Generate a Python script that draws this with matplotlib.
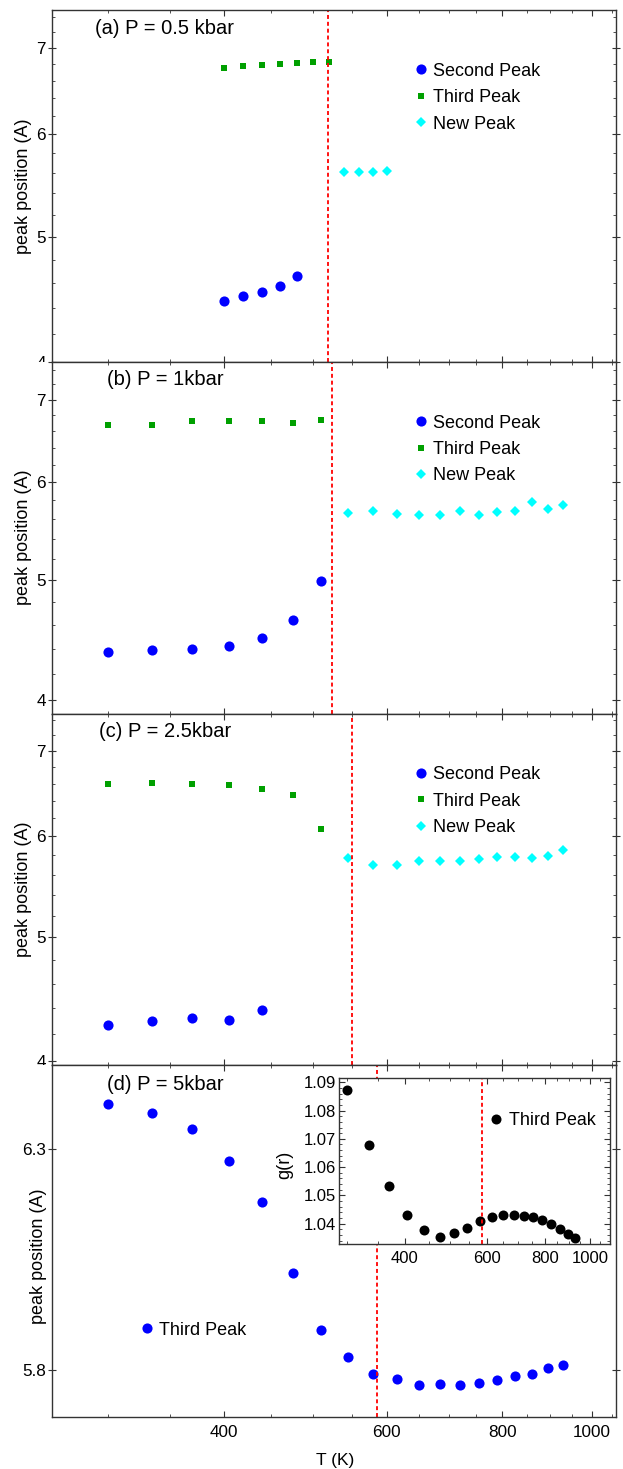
import numpy as np
import matplotlib.pyplot as plt
from matplotlib.ticker import NullFormatter
from matplotlib.transforms import Bbox, TransformedBbox

plt.rcParams['font.family'] = ['Liberation Sans', 'DejaVu Sans']

# temperatures (K)
T_a_second = [400, 420, 440, 460, 480]
T_a_third = [400, 420, 440, 460, 480, 500, 520]
T_a_new = [540, 560, 580, 600]
T_low = [300, 335, 370, 405, 440, 475, 510]
T_c_second = [300, 335, 370, 405, 440]
T_high = [545, 580, 615, 650, 685, 720, 755, 790, 825, 860, 895, 930]
T_all = [300, 335, 370, 405, 440, 475, 510, 545, 580, 615, 650, 685, 720,
         755, 790, 825, 860, 895, 930]

# (a) P = 0.5 kbar
a_second = [4.46, 4.50, 4.53, 4.58, 4.66]
a_third = [6.75, 6.78, 6.79, 6.80, 6.82, 6.83, 6.83]
a_new = [5.61, 5.61, 5.61, 5.62]

# (b) P = 1 kbar
b_second = [4.37, 4.39, 4.40, 4.42, 4.49, 4.64, 4.99]
b_third = [6.68, 6.68, 6.73, 6.73, 6.72, 6.70, 6.74]
b_new = [5.67, 5.69, 5.66, 5.64, 5.64, 5.69, 5.65, 5.68, 5.69, 5.78, 5.71, 5.75]

# (c) P = 2.5 kbar
c_second = [4.27, 4.30, 4.32, 4.31, 4.39]
c_third = [6.59, 6.61, 6.59, 6.58, 6.54, 6.46, 6.08]
c_new = [5.77, 5.70, 5.70, 5.735, 5.74, 5.74, 5.756, 5.776, 5.776, 5.766, 5.787, 5.85]

# (d) P = 5 kbar
d_third = [6.407, 6.384, 6.348, 6.272, 6.177, 6.015, 5.889, 5.829, 5.792, 5.781,
           5.769, 5.771, 5.769, 5.773, 5.780, 5.787, 5.793, 5.805, 5.812]
d_gr = [1.0871, 1.0678, 1.0533, 1.0430, 1.0378, 1.0352, 1.0366, 1.0384, 1.0410,
        1.0423, 1.0430, 1.0430, 1.0427, 1.0423, 1.0413, 1.0399, 1.0381, 1.0363, 1.0348]

# transition temperatures (dashed lines)
T_trans = [518, 524, 550, 586]

panel_titles = ['(a) P = 0.5 kbar', '(b) P = 1kbar', '(c) P = 2.5kbar', '(d) P = 5kbar']
x_major = [400, 600, 800, 1000]
x_minor = [300, 350, 450, 500, 550, 650, 700, 750, 850, 900, 950, 1050]
y_major = [4, 5, 6, 7]
y_minor = [4.2, 4.4, 4.6, 4.8, 5.2, 5.4, 5.6, 5.8, 6.2, 6.4, 6.6, 6.8, 7.2, 7.4]

BLUE = '#0000FF'
GREEN = '#00A000'
CYAN = '#00FFFF'
FRAME = '#333333'

fig = plt.figure(figsize=(6.23, 14.69), dpi=100)
gs = fig.add_gridspec(4, 1, left=52/623, right=616/623, top=1-10/1469,
                      bottom=1-1417/1469, hspace=0)
axes = [fig.add_subplot(gs[i]) for i in range(4)]


def style(ax, show_x):
    ax.set_xscale('log')
    ax.set_yscale('log')
    ax.set_xlim(261, 1061)
    ax.set_xticks(x_major, labels=[str(v) for v in x_major])
    ax.set_xticks(x_minor, minor=True)
    ax.xaxis.set_minor_formatter(NullFormatter())
    ax.yaxis.set_minor_formatter(NullFormatter())
    for s in ax.spines.values():
        s.set_color(FRAME)
        s.set_linewidth(1.0)
    ax.tick_params(which='both', top=True, right=True, direction='in',
                   color=FRAME, labelsize=12.3)
    ax.tick_params(axis='x', which='major', length=4.5, width=0.8, pad=6)
    ax.tick_params(axis='x', which='minor', length=2.2, width=0.6)
    ax.tick_params(axis='y', which='major', length=6, width=0.8,
                   direction='inout', pad=1.5)
    ax.tick_params(axis='y', which='minor', length=2.5, width=0.6)
    ax.tick_params(axis='x', labelbottom=show_x)


data = [
    (T_a_second, a_second, T_a_third, a_third, T_a_new, a_new),
    (T_low, b_second, T_low, b_third, T_high, b_new),
    (T_c_second, c_second, T_low, c_third, T_high, c_new),
]
ylims = [(4.0, 7.49), (3.9, 7.51), (3.97, 7.49)]
title_pos = [(0.0762, 0.946), (0.0972, 0.9487), (0.083, 0.9496)]

for i in range(3):
    ax = axes[i]
    Ts, s2, Tt, s3, Tn, sn = data[i]
    ax.plot(Ts, s2, 'o', color=BLUE, ms=7.3, mew=0, label='Second Peak')
    ax.plot(Tt, s3, 's', color=GREEN, ms=4.8, mew=0, label='Third Peak')
    ax.plot(Tn, sn, 'D', color=CYAN, ms=4.6, mew=0, label='New Peak')
    ax.axvline(T_trans[i], color='red', lw=1.3, ls=(0, (2.2, 1.6)))
    style(ax, False)
    ax.set_ylim(*ylims[i])
    ax.set_yticks(y_major, labels=[str(v) for v in y_major])
    ax.set_yticks(y_minor, minor=True)
    ax.yaxis.set_minor_formatter(NullFormatter())
    ax.text(title_pos[i][0], title_pos[i][1], panel_titles[i], transform=ax.transAxes,
            fontsize=14.5, va='center', ha='left')
    ax.legend(loc='upper left', bbox_to_anchor=(0.642, 0.85), frameon=False,
              fontsize=13, handlelength=0.8, handletextpad=0.25, labelspacing=0.52,
              borderpad=0, borderaxespad=0)
    ax.set_ylabel('peak position (A)', fontsize=13)
    ax.yaxis.set_label_coords(-0.036, 0.5)

# panel (d)
ax = axes[3]
ax.plot(T_all, d_third, 'o', color=BLUE, ms=7.3, mew=0, label='Third Peak')
ax.axvline(T_trans[3], color='red', lw=1.3, ls=(0, (2.2, 1.6)))
style(ax, True)
ax.set_ylim(5.7, 6.5)
ax.set_yticks([5.8, 6.3], labels=['5.8', '6.3'])
ax.set_yticks([], minor=True)
ax.text(0.0972, 0.946, panel_titles[3], transform=ax.transAxes, fontsize=14.5,
        va='center', ha='left')
ax.legend(loc='center left', bbox_to_anchor=(0.155, 0.247), frameon=False,
          fontsize=13, handlelength=0.8, handletextpad=0.3, borderpad=0,
          borderaxespad=0)
ax.set_ylabel('peak position (A)', fontsize=13)
ax.yaxis.set_label_coords(-0.008, 0.456)
ax.set_xlabel('T (K)', fontsize=12.5)
ax.xaxis.set_label_coords(0.502, -0.102)

# cut tick labels at panel boundaries
for ax in axes:
    clip = TransformedBbox(Bbox([[-1, 0], [2, 1]]), ax.transAxes)
    for lab in ax.get_yticklabels():
        lab.set_clip_box(clip)
        lab.set_clip_on(True)

# inset
ins = fig.add_axes([339.3/623, 1-1244.3/1469, 270.7/623, 166/1469], zorder=5)
ins.plot(T_all, d_gr, 'o', color='black', ms=7.2, mew=0, label='Third Peak')
ins.axvline(T_trans[3], color='red', lw=1.3, ls=(0, (2.2, 1.6)))
ins.set_xscale('log')
ins.set_xlim(289, 1104)
ins.set_ylim(1.0327, 1.0914)
ins.set_xticks(x_major, labels=[str(v) for v in x_major])
ins.set_xticks(x_minor, minor=True)
ins.xaxis.set_minor_formatter(NullFormatter())
gr_ticks = [1.04, 1.05, 1.06, 1.07, 1.08, 1.09]
ins.set_yticks(gr_ticks, labels=['%.2f' % v for v in gr_ticks])
ins.set_yticks(np.arange(1.034, 1.091, 0.002), minor=True)
for s in ins.spines.values():
    s.set_color(FRAME)
    s.set_linewidth(1.0)
ins.tick_params(which='both', top=True, right=True, direction='in', color=FRAME,
                labelsize=12)
ins.tick_params(which='major', length=4, width=0.8)
ins.tick_params(which='minor', length=2, width=0.6)
ins.tick_params(axis='y', pad=2.5)
ins.tick_params(axis='x', pad=5)
ins.legend(loc='center left', bbox_to_anchor=(0.551, 0.745), frameon=False,
           fontsize=12.9, handlelength=0.8, handletextpad=0.35, borderpad=0,
           borderaxespad=0)
ins.set_ylabel('g(r)', fontsize=13)
ins.yaxis.set_label_coords(-0.17, 0.478)

fig.savefig('out.png', dpi=100)
